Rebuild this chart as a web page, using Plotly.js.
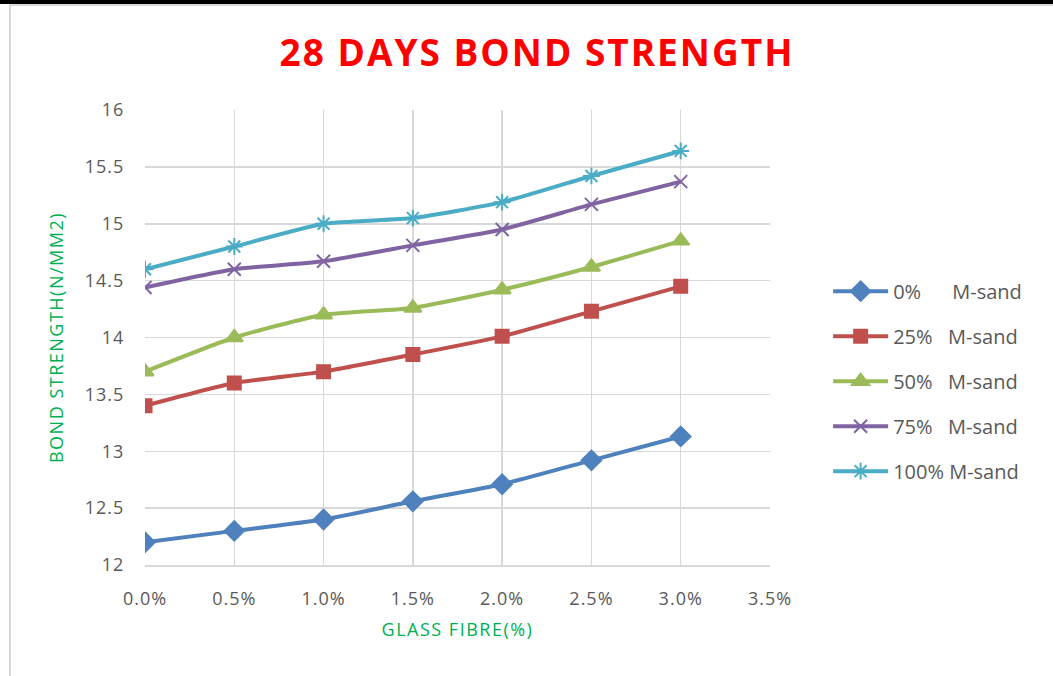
<!DOCTYPE html>
<html>
<head>
<meta charset="utf-8">
<script src="https://cdn.plot.ly/plotly-3.0.1.min.js"></script>
<style>
  html, body { margin: 0; padding: 0; background: #ffffff; }
  #wrap { position: relative; width: 1053px; height: 676px; overflow: hidden; }
  #chart { position: absolute; left: 0; top: 0; width: 1053px; height: 676px; }
  .topbar { position: absolute; left: 0; top: 0; width: 1053px; height: 4px; background: #000; }
  .frameTop { position: absolute; left: 10px; top: 4px; width: 1043px; height: 2px; background: #d9d9d9; }
  .frameLeft { position: absolute; left: 9px; top: 4px; width: 2px; height: 672px; background: #d9d9d9; }
  /* wider tracking for the chart texts */
  #chart .gtitle { letter-spacing: 2px; }
  #chart .xtitle, #chart .ytitle { letter-spacing: 1.5px; }
  #chart .xtick text, #chart .ytick text { letter-spacing: 1px; }
</style>
</head>
<body>
<div id="wrap">
  <div id="chart"></div>
  <div class="topbar"></div>
  <div class="frameTop"></div>
  <div class="frameLeft"></div>
</div>
<script>
// Glass fibre content (fraction) on the x axis
const fibre = [0, 0.005, 0.010, 0.015, 0.020, 0.025, 0.030];

// 28-day bond strength (N/mm2) for each M-sand replacement level
const msand0   = [12.20, 12.30, 12.40, 12.56, 12.71, 12.92, 13.13];
const msand25  = [13.40, 13.60, 13.70, 13.85, 14.01, 14.23, 14.45];
const msand50  = [13.70, 14.00, 14.20, 14.26, 14.42, 14.62, 14.85];
const msand75  = [14.44, 14.60, 14.67, 14.81, 14.95, 15.17, 15.37];
const msand100 = [14.60, 14.80, 15.00, 15.05, 15.19, 15.42, 15.64];

const seriesNames = [
  '0%\u00a0\u00a0\u00a0\u00a0\u00a0\u00a0M-sand',
  '25%\u00a0\u00a0\u00a0M-sand',
  '50%\u00a0\u00a0\u00a0M-sand',
  '75%\u00a0\u00a0\u00a0M-sand',
  '100% M-sand'
];

const styles = [
  { color: '#4F81BD', symbol: 'diamond', size: 15 },
  { color: '#C0504D', symbol: 'square', size: 13 },
  { color: '#9BBB59', symbol: 'triangle-up', size: 15 },
  { color: '#8064A2', symbol: 'x-thin-open', size: 13 },
  { color: '#4BACC6', symbol: 'asterisk-open', size: 14 }
];

const allSeries = [msand0, msand25, msand50, msand75, msand100];

const traces = allSeries.map((ys, i) => ({
  x: fibre,
  y: ys,
  name: seriesNames[i],
  type: 'scatter',
  mode: 'lines+markers',
  legendgroup: 'g' + i,
  line: { color: styles[i].color, width: 4, shape: 'spline', smoothing: 0.5 },
  marker: {
    color: styles[i].color,
    symbol: styles[i].symbol,
    size: styles[i].size,
    line: { color: styles[i].color, width: 2 }
  }
}));

const fontFamily = 'Open Sans, Calibri, sans-serif';
const tickFont = { family: fontFamily, size: 18, color: '#595959' };

const layout = {
  width: 1053,
  height: 676,
  margin: { l: 145, r: 283, t: 110, b: 111 },
  paper_bgcolor: '#ffffff',
  plot_bgcolor: '#ffffff',
  title: {
    text: '<b>28 DAYS BOND STRENGTH</b>',
    font: { family: fontFamily, size: 37, color: '#FF0000' },
    x: 0.51,
    xanchor: 'center',
    y: 0.922,
    yanchor: 'middle'
  },
  xaxis: {
    range: [0, 0.035],
    dtick: 0.005,
    tick0: 0,
    tickformat: '.1%',
    showgrid: true,
    gridcolor: '#D9D9D9',
    gridwidth: 1.5,
    zeroline: false,
    showline: true,
    linecolor: '#D9D9D9',
    linewidth: 1.5,
    ticks: 'outside',
    ticklen: 17,
    tickcolor: 'rgba(0,0,0,0)',
    tickfont: tickFont,
    title: {
      text: 'GLASS FIBRE(%)',
      font: { family: fontFamily, size: 18, color: '#00B050' },
      standoff: 14
    }
  },
  yaxis: {
    range: [12, 16],
    dtick: 0.5,
    showgrid: true,
    gridcolor: '#D9D9D9',
    gridwidth: 1.5,
    zeroline: false,
    showline: false,
    ticks: 'outside',
    ticklen: 16,
    tickcolor: 'rgba(0,0,0,0)',
    tickfont: tickFont,
    title: {
      text: 'BOND STRENGTH(N/MM2)',
      font: { family: fontFamily, size: 18, color: '#00B050' },
      standoff: 20
    }
  },
  legend: {
    x: 1.093,
    xanchor: 'left',
    y: 0.404,
    yanchor: 'middle',
    font: { family: fontFamily, size: 20, color: '#595959' },
    traceorder: 'grouped',
    tracegroupgap: 16,
    itemwidth: 55,
    bgcolor: 'rgba(0,0,0,0)'
  },
  showlegend: true
};

Plotly.newPlot('chart', traces, layout, { displayModeBar: false, staticPlot: true });
</script>
</body>
</html>
